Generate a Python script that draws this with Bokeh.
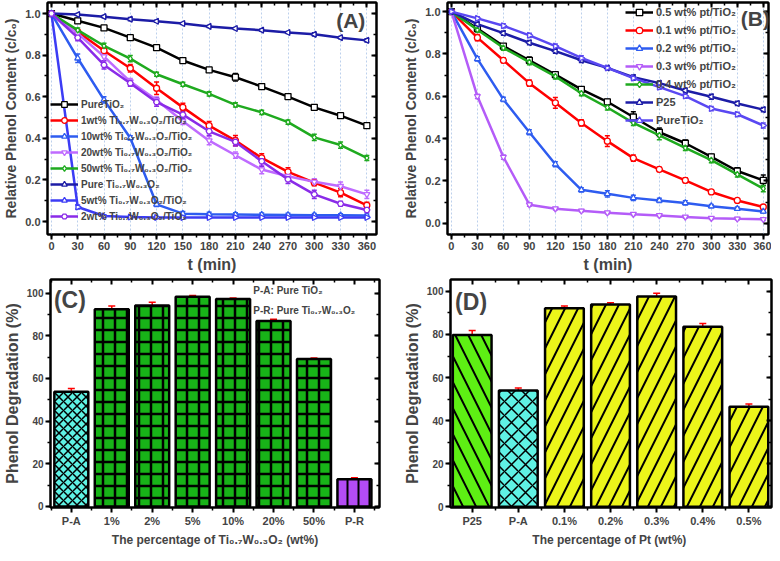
import math
from bokeh.plotting import figure
from bokeh.models import (ColumnDataSource, Whisker, TeeHead, Legend, LegendItem,
                          LinearAxis, SingleIntervalTicker, FixedTicker,
                          PrintfTickFormatter, CustomJSTickFormatter, Label, Range1d)
from bokeh.layouts import row, column
from bokeh.embed import file_html
from bokeh.resources import INLINE

FONT = "Liberation Sans"

# ---------------- data ----------------
t_min = [0, 30, 60, 90, 120, 150, 180, 210, 240, 270, 300, 330, 360]

# Panel A
a_labels = ["PureTiO₂",
            "1wt% Ti₀.₇W₀.₃O₂/TiO₂",
            "10wt% Ti₀.₇W₀.₃O₂/TiO₂",
            "20wt% Ti₀.₇W₀.₃O₂/TiO₂",
            "50wt% Ti₀.₇W₀.₃O₂/TiO₂",
            "Pure Ti₀.₇W₀.₃O₂",
            "5wt% Ti₀.₇W₀.₃O₂/TiO₂",
            "2wt% Ti₀.₇W₀.₃O₂/TiO₂"]
a_pure_tio2 = [1.0, 0.965, 0.931, 0.884, 0.836, 0.774, 0.729, 0.694, 0.649, 0.601, 0.549, 0.509, 0.461]
a_wt1 = [1.0, 0.912, 0.821, 0.737, 0.641, 0.549, 0.461, 0.389, 0.306, 0.239, 0.187, 0.139, 0.078]
a_wt10 = [1.0, 0.785, 0.585, 0.402, 0.083, 0.038, 0.035, 0.034, 0.033, 0.032, 0.031, 0.030, 0.029]
a_wt20 = [1.0, 0.904, 0.793, 0.673, 0.584, 0.482, 0.389, 0.319, 0.250, 0.218, 0.191, 0.170, 0.131]
a_wt50 = [1.0, 0.920, 0.845, 0.783, 0.708, 0.660, 0.614, 0.561, 0.525, 0.478, 0.405, 0.368, 0.306]
a_pure_tw = [1.0, 0.995, 0.985, 0.973, 0.963, 0.952, 0.938, 0.928, 0.920, 0.909, 0.900, 0.884, 0.871]
a_wt5 = [1.0, 0.070, 0.027, 0.022, 0.020, 0.020, 0.020, 0.020, 0.020, 0.020, 0.020, 0.020, 0.020]
a_wt2 = [1.0, 0.884, 0.753, 0.665, 0.574, 0.514, 0.434, 0.383, 0.290, 0.203, 0.131, 0.086, 0.056]
a_values = [a_pure_tio2, a_wt1, a_wt10, a_wt20, a_wt50, a_pure_tw, a_wt5, a_wt2]

a_err_pure_tio2 = [0, 0.012, 0.008, 0.012, 0.010, 0.010, 0.010, 0.018, 0.010, 0.008, 0.010, 0.010, 0.012]
a_err_wt1 = [0, 0.010, 0.015, 0.018, 0.030, 0.020, 0.020, 0.025, 0.020, 0.020, 0.015, 0.020, 0.015]
a_err_wt10 = [0, 0.020, 0.015, 0.010, 0.010, 0.010, 0.010, 0.008, 0.008, 0.008, 0.008, 0.008, 0.008]
a_err_wt20 = [0, 0.015, 0.020, 0.015, 0.015, 0.015, 0.020, 0.015, 0.020, 0.020, 0.015, 0.020, 0.020]
a_err_wt50 = [0, 0.010, 0.012, 0.015, 0.010, 0.010, 0.010, 0.010, 0.010, 0.010, 0.015, 0.015, 0.012]
a_err_pure_tw = [0, 0.005, 0.005, 0.008, 0.005, 0.005, 0.005, 0.005, 0.005, 0.005, 0.008, 0.005, 0.008]
a_err_wt5 = [0, 0.010, 0.006, 0.005, 0.005, 0.005, 0.005, 0.005, 0.005, 0.005, 0.005, 0.005, 0.005]
a_err_wt2 = [0, 0.015, 0.020, 0.015, 0.020, 0.020, 0.020, 0.020, 0.025, 0.020, 0.020, 0.010, 0.010]
a_errors = [a_err_pure_tio2, a_err_wt1, a_err_wt10, a_err_wt20, a_err_wt50, a_err_pure_tw, a_err_wt5, a_err_wt2]

# Panel B
b_labels = ["0.5 wt% pt/TiO₂", "0.1 wt% pt/TiO₂", "0.2 wt% pt/TiO₂", "0.3 wt% pt/TiO₂",
            "0.4 wt% pt/TiO₂", "P25", "PureTiO₂"]
b_pt05 = [1.0, 0.920, 0.837, 0.770, 0.702, 0.633, 0.574, 0.502, 0.430, 0.378, 0.314, 0.247, 0.203]
b_pt01 = [1.0, 0.877, 0.770, 0.662, 0.569, 0.474, 0.388, 0.308, 0.255, 0.203, 0.148, 0.108, 0.077]
b_pt02 = [1.0, 0.777, 0.585, 0.430, 0.279, 0.158, 0.139, 0.120, 0.108, 0.096, 0.081, 0.069, 0.056]
b_pt03 = [1.0, 0.600, 0.313, 0.088, 0.069, 0.059, 0.050, 0.043, 0.037, 0.030, 0.024, 0.021, 0.019]
b_pt04 = [1.0, 0.914, 0.829, 0.761, 0.694, 0.614, 0.547, 0.474, 0.415, 0.356, 0.298, 0.231, 0.164]
b_p25 = [1.0, 0.941, 0.898, 0.853, 0.813, 0.770, 0.734, 0.690, 0.662, 0.627, 0.598, 0.566, 0.537]
b_pure = [1.0, 0.968, 0.933, 0.888, 0.837, 0.781, 0.734, 0.686, 0.643, 0.601, 0.542, 0.515, 0.462]
b_values = [b_pt05, b_pt01, b_pt02, b_pt03, b_pt04, b_p25, b_pure]

b_err_pt05 = [0, 0.010, 0.010, 0.015, 0.010, 0.010, 0.012, 0.025, 0.020, 0.015, 0.012, 0.015, 0.025]
b_err_pt01 = [0, 0.015, 0.012, 0.015, 0.025, 0.015, 0.025, 0.015, 0.010, 0.012, 0.008, 0.008, 0.010]
b_err_pt02 = [0, 0.010, 0.010, 0.012, 0.012, 0.010, 0.015, 0.012, 0.010, 0.010, 0.008, 0.008, 0.008]
b_err_pt03 = [0, 0.010, 0.010, 0.008, 0.006, 0.006, 0.006, 0.006, 0.006, 0.006, 0.006, 0.006, 0.006]
b_err_pt04 = [0, 0.010, 0.012, 0.012, 0.012, 0.012, 0.012, 0.012, 0.020, 0.012, 0.012, 0.012, 0.015]
b_err_p25 = [0, 0.008, 0.010, 0.010, 0.010, 0.010, 0.008, 0.010, 0.010, 0.010, 0.012, 0.010, 0.010]
b_err_pure = [0, 0.008, 0.010, 0.010, 0.010, 0.010, 0.008, 0.010, 0.010, 0.010, 0.010, 0.010, 0.012]
b_errors = [b_err_pt05, b_err_pt01, b_err_pt02, b_err_pt03, b_err_pt04, b_err_p25, b_err_pure]

# Panel C
c_labels = ["P-A", "1%", "2%", "5%", "10%", "20%", "50%", "P-R"]
c_vals = [53.8, 92.5, 94.2, 98.3, 97.3, 87.0, 69.1, 12.7]
c_err = [1.5, 1.5, 1.5, 0.6, 0.4, 0.8, 0.5, 0.8]

# Panel D
d_labels = ["P25", "P-A", "0.1%", "0.2%", "0.3%", "0.4%", "0.5%"]
d_vals = [79.8, 54.0, 92.2, 93.9, 97.6, 83.6, 46.4]
d_err = [2.0, 1.2, 1.0, 0.8, 1.5, 1.5, 1.3]

# ---------------- styles ----------------
a_colors = ["#000000", "#FF0000", "#2E5CF0", "#BF6BFF", "#1FAA1F", "#1C1CA6", "#3C3CF5", "#8A2BE8"]
a_markers = ["square", "circle", "triangle", "inverted_triangle", "diamond", "triangle", "triangle", "hex"]
a_angles = [0, 0, 0, 0, 0, math.pi / 2, -math.pi / 2, 0]

b_colors = ["#000000", "#FF0000", "#2E5CF0", "#B45CF8", "#1FAA1F", "#1C1CA6", "#5A48F2"]
b_markers = ["square", "circle", "triangle", "inverted_triangle", "diamond", "triangle", "triangle"]
b_angles = [0, 0, 0, 0, 0, math.pi / 2, -math.pi / 2]

c_fill = ["#5FF2E4"] + ["#18B418"] * 6 + ["#B44CF5"]
c_hatch = ["diagonal_cross"] + ["cross"] * 6 + ["vertical_line"]
c_hscale = [9] + [12] * 6 + [11]
c_hweight = [1.5] + [2.5] * 6 + [2]

d_fill = ["#5EEF14", "#5FF2E4"] + ["#ECF51A"] * 5
d_hatch = ["left_diagonal_line", "diagonal_cross"] + ["right_diagonal_line"] * 5
d_hscale = [26, 14] + [26] * 5
d_hweight = [2, 1.5] + [2] * 5


def style_axes(p, xticker, yticker, xfmt, yfmt, xlab, ylab, xtick_fs, ytick_fs, xlab_fs, ylab_fs):
    p.xaxis.ticker = xticker
    p.yaxis.ticker = yticker
    p.xaxis.formatter = xfmt
    p.yaxis.formatter = yfmt
    p.xaxis.axis_label = xlab
    p.yaxis.axis_label = ylab
    for ax, tfs, lfs in ((p.xaxis[0], xtick_fs, xlab_fs), (p.yaxis[0], ytick_fs, ylab_fs)):
        ax.axis_line_width = 2
        ax.major_tick_line_width = 2
        ax.minor_tick_line_width = 1.5
        ax.major_tick_out = 5
        ax.major_tick_in = 0
        ax.minor_tick_out = 3
        ax.minor_tick_in = 0
        ax.major_label_text_font = FONT
        ax.major_label_text_font_style = "bold"
        ax.major_label_text_font_size = tfs
        ax.major_label_standoff = 2
        ax.axis_label_text_font = FONT
        ax.axis_label_text_font_style = "bold"
        ax.axis_label_text_font_size = lfs
        ax.axis_label_standoff = 3
    for place, tk in (("above", xticker), ("right", yticker)):
        ax = LinearAxis(ticker=tk, formatter=CustomJSTickFormatter(code="return ''"),
                        major_tick_in=5, major_tick_out=0, minor_tick_in=3, minor_tick_out=0,
                        major_tick_line_width=2, minor_tick_line_width=1.5, axis_line_width=2,
                        major_label_standoff=0, major_label_text_font_size="1px")
        p.add_layout(ax, place)
    p.outline_line_color = "black"
    p.outline_line_width = 2


def line_panel(values, errors, labels, colors, markers, angles, xr, yr, frame_w, border_left, border_right,
               legend_loc, glyph_h, label_fs, tag, tag_xy, tag_fs):
    p = figure(frame_width=frame_w, frame_height=232, x_range=Range1d(*xr), y_range=Range1d(*yr),
               output_backend="svg", toolbar_location=None,
               min_border_left=border_left, min_border_right=border_right,
               min_border_top=2, min_border_bottom=40)
    xt = SingleIntervalTicker(interval=30, num_minor_ticks=2)
    yt = SingleIntervalTicker(interval=0.2, num_minor_ticks=2)
    style_axes(p, xt, yt, PrintfTickFormatter(format="%d"), PrintfTickFormatter(format="%.1f"),
               "t (min)", "Relative Phenol Content (c/c₀)", "11px", "11px", "16px", "14px")
    p.xgrid.grid_line_color = "#BCD0EC"
    p.xgrid.grid_line_dash = "2 2"
    p.ygrid.grid_line_color = None
    items = []
    for vals, errs, lab, col, mk, ang in zip(values, errors, labels, colors, markers, angles):
        src = ColumnDataSource(dict(t=t_min, y=vals,
                                    lo=[v - e for v, e in zip(vals, errs)],
                                    up=[v + e for v, e in zip(vals, errs)]))
        w = Whisker(source=src, base="t", lower="lo", upper="up", line_color=col, line_width=1.5,
                    upper_head=TeeHead(size=5, line_color=col, line_width=1.5),
                    lower_head=TeeHead(size=5, line_color=col, line_width=1.5))
        p.add_layout(w)
        lr = p.line("t", "y", source=src, line_color=col, line_width=2.5)
        sr = p.scatter("t", "y", source=src, marker=mk, angle=ang, size=6,
                       line_color=col, line_width=1.3, fill_color="white")
        items.append(LegendItem(label=lab, renderers=[lr, sr]))
    leg = Legend(items=items, location=legend_loc, orientation="vertical",
                 background_fill_alpha=0, border_line_alpha=0, padding=0, margin=0,
                 spacing=2, glyph_width=28, glyph_height=glyph_h, label_height=glyph_h,
                 label_standoff=3, label_text_font=FONT, label_text_font_style="bold",
                 label_text_font_size=label_fs)
    p.add_layout(leg)
    p.add_layout(Label(x=tag_xy[0], y=tag_xy[1], text=tag, text_font=FONT,
                       text_font_style="bold", text_font_size=tag_fs,
                       text_align="left", text_baseline="top"))
    return p


pA = line_panel(a_values, a_errors, a_labels, a_colors, a_markers, a_angles,
                (-4.5, 371), (-0.062, 1.053), 329, 40, 13, (3, 11), 14, "10px", "(A)", (325, 1.02), "21px")
pB = line_panel(b_values, b_errors, b_labels, b_colors, b_markers, b_angles,
                (-4.5, 366), (-0.053, 1.043), 321, 58, 3, (178, 106), 16, "11px", "(B)", (334, 1.02), "21px")


def bar_panel(labels, vals, errs, fills, hatches, hscale, hweight, xr, yr, frame_w, border_left, border_right,
              xlab, tag, tag_xy):
    p = figure(frame_width=frame_w, frame_height=228, x_range=Range1d(*xr), y_range=Range1d(*yr),
               output_backend="svg", toolbar_location=None,
               min_border_left=border_left, min_border_right=border_right,
               min_border_top=4, min_border_bottom=34)
    n = len(labels)
    xt = FixedTicker(ticks=list(range(n)), minor_ticks=[i + 0.5 for i in range(-1, n)])
    yt = SingleIntervalTicker(interval=20, num_minor_ticks=2)
    xfmt = CustomJSTickFormatter(args=dict(labels=labels),
                                 code="const i = Math.round(tick); return (i >= 0 && i < labels.length) ? labels[i] : '';")
    style_axes(p, xt, yt, xfmt, PrintfTickFormatter(format="%d"), xlab, "Phenol Degradation (%)",
               "11px", "10px", "12px", "16px")
    p.xgrid.grid_line_color = None
    p.ygrid.grid_line_color = None
    src = ColumnDataSource(dict(x=list(range(n)), top=vals,
                                lo=[v - e for v, e in zip(vals, errs)],
                                up=[v + e for v, e in zip(vals, errs)],
                                fill=fills, hatch=hatches, hs=hscale, hw=hweight))
    p.vbar(x="x", top="top", bottom=0, width=0.84, source=src, fill_color="fill",
           line_color="black", line_width=2.5, hatch_pattern="hatch", hatch_color="black",
           hatch_scale="hs", hatch_weight="hw")
    p.add_layout(Whisker(source=src, base="x", lower="lo", upper="up", line_color="#FF0000",
                         line_width=1.5,
                         upper_head=TeeHead(size=7, line_color="#FF0000", line_width=1.5),
                         lower_head=TeeHead(size=7, line_color="#FF0000", line_width=1.5)))
    p.add_layout(Label(x=tag_xy[0], y=tag_xy[1], text=tag, text_font=FONT,
                       text_font_style="bold", text_font_size="23px",
                       text_align="left", text_baseline="top"))
    return p


pC = bar_panel(c_labels, c_vals, c_err, c_fill, c_hatch, c_hscale, c_hweight,
               (-0.515, 7.62), (-0.5, 106.4), 329, 40, 13,
               "The percentage of Ti₀.₇W₀.₃O₂ (wt%)", "(C)", (-0.43, 103.0))
for txt, yy in (("P-A: Pure TiO₂", 101.4), ("P-R: Pure Ti₀.₇W₀.₃O₂", 91.8)):
    pC.add_layout(Label(x=4.5, y=yy, text=txt, text_font=FONT, text_font_style="bold",
                        text_font_size="10px", text_align="left", text_baseline="middle"))

pD = bar_panel(d_labels, d_vals, d_err, d_fill, d_hatch, d_hscale, d_hweight,
               (-0.47, 6.49), (-0.3, 105.5), 321, 58, 3,
               "The percentage of Pt  (wt%)", "(D)", (-0.37, 101.0))

layout = column(row(pA, pB), row(pC, pD))
open("out.html", "w").write(file_html(layout, INLINE, title="Phenol degradation"))
